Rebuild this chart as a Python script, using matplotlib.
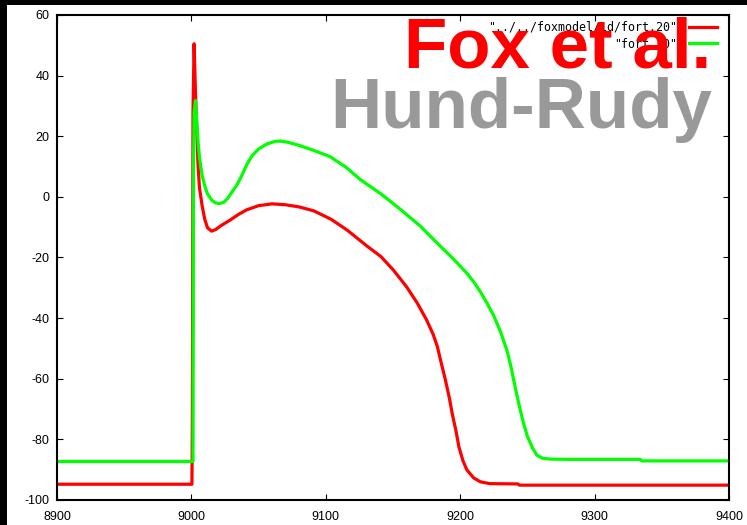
import matplotlib
matplotlib.use("Agg")
import matplotlib.pyplot as plt
from matplotlib.patches import Rectangle

# membrane potential traces (ms, mV)
t_fox = [8900, 9000.4, 9000.7, 9001.2, 9002, 9003, 9004, 9005, 9006, 9008, 9010,
         9012, 9015, 9018, 9022, 9029, 9035, 9041, 9050, 9060, 9070, 9080, 9091,
         9104, 9116, 9130, 9141, 9150, 9160, 9168, 9175, 9180, 9183, 9186, 9189,
         9192, 9194, 9197, 9199, 9202, 9205, 9210, 9215, 9222, 9243, 9244, 9400]
v_fox = [-94.8, -94.8, -75, 28, 50.5, 35, 22, 10, 3, -3, -7.5,
         -10.2, -11.3, -10.8, -9.5, -7.6, -5.8, -4.3, -2.9, -2.3, -2.6, -3.3, -4.6,
         -7.4, -11, -16, -19.7, -24, -29.6, -35, -40.6, -45.5, -49.4, -55, -60.4,
         -66.5, -71.4, -77.5, -82.4, -87, -90.1, -92.7, -94, -94.6, -94.7, -95.1, -95.1]

t_hrd = [8900, 9001.2, 9001.5, 9002, 9003, 9004, 9005, 9006, 9008, 9010, 9012,
         9015, 9018, 9021, 9024, 9027, 9030, 9034, 9038, 9041, 9045, 9050, 9056,
         9062, 9066, 9072, 9080, 9090, 9103, 9115, 9126, 9141, 9156, 9170, 9183,
         9195, 9205, 9210, 9215, 9220, 9225, 9230, 9235, 9238, 9241, 9244, 9247,
         9250, 9254, 9257, 9261, 9267, 9280, 9334, 9335, 9400]
v_hrd = [-87.3, -87.3, 8, 28, 31.8, 25, 18, 13, 7, 3.5, 1,
         -1, -2, -2.2, -1.8, -0.5, 1.5, 4, 7.5, 10.5, 13.5, 15.8, 17.4,
         18.3, 18.4, 18, 17, 15.5, 13.3, 9.8, 5.6, 1, -4.3, -9.5, -15.3,
         -20.5, -25.2, -28, -31.3, -35.1, -39.2, -44.5, -51, -56.5, -63, -69, -74.5,
         -79, -83, -85.2, -86.2, -86.5, -86.6, -86.6, -87.1, -87.1]

xticks = [8900, 9000, 9100, 9200, 9300, 9400]
yticks = [-100, -80, -60, -40, -20, 0, 20, 40, 60]

W, H = 747, 525
plt.rcParams['font.family'] = ['Liberation Sans', 'DejaVu Sans']
plt.rcParams['axes.unicode_minus'] = False

fig = plt.figure(figsize=(W / 100, H / 100), dpi=100, facecolor='white')
ax = fig.add_axes([57 / W, 25 / H, 672 / W, 485 / H])

# black frame bits along top and left
fig.patches.append(Rectangle((0, 1 - 5 / H), 1, 5 / H, transform=fig.transFigure,
                             facecolor='black', edgecolor='none'))
fig.patches.append(Rectangle((0, 0), 7 / W, 1, transform=fig.transFigure,
                             facecolor='black', edgecolor='none'))

ax.plot(t_fox, v_fox, color='#ff0000', lw=2.3, label='"../../foxmodel/1d/fort.20"')
ax.plot(t_hrd, v_hrd, color='#00ff00', lw=2.3, label='"fort.20"')

ax.set_xlim(8900, 9400)
ax.set_ylim(-100, 60)
ax.set_xticks(xticks)
ax.set_yticks(yticks)
ax.tick_params(direction='in', length=4.3, width=0.8, top=True, right=True,
               labelsize=9, colors='black')
ax.tick_params(axis='y', pad=5.5)
ax.tick_params(axis='x', pad=8)
for s in ax.spines.values():
    s.set_linewidth(1.5)

ax.legend(loc='upper right', markerfirst=False, frameon=False,
          bbox_to_anchor=(717 / W, 1 - 21 / H), bbox_transform=fig.transFigure,
          borderpad=0, borderaxespad=0, handlelength=2.4, handletextpad=1.0,
          labelspacing=0.3, prop={'family': 'DejaVu Sans Mono', 'size': 8.4})

fig.text(711 / W, 1 - 68 / H, 'Fox et al.', color='#ff0000', fontsize=51,
         fontweight='bold', ha='right', va='baseline', family='Liberation Sans')
fig.text(712 / W, 1 - 128 / H, 'Hund-Rudy', color='#999999', fontsize=51,
         fontweight='bold', ha='right', va='baseline', family='Liberation Sans')

fig.savefig('out.png', dpi=100, facecolor='white')
